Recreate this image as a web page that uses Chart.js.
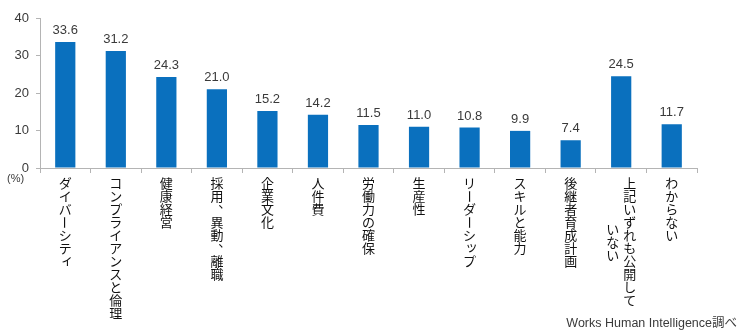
<!DOCTYPE html>
<html>
<head>
<meta charset="utf-8">
<style>
  html, body { margin: 0; padding: 0; background: #fff; }
  #wrap { width: 740px; height: 330px; position: relative; }
</style>
<script src="https://cdn.jsdelivr.net/npm/chart.js@4.4.0/dist/chart.umd.min.js"></script>
</head>
<body>
<div id="wrap"><canvas id="chart"></canvas></div>
<script>
// data
const categories = [
  'ダイバーシティ',
  'コンプライアンスと倫理',
  '健康経営',
  '採用、異動、離職',
  '企業文化',
  '人件費',
  '労働力の確保',
  '生産性',
  'リーダーシップ',
  'スキルと能力',
  '後継者育成計画',
  ['上記いずれも公開して', 'いない'],
  'わからない'
];
const values = [33.6, 31.2, 24.3, 21.0, 15.2, 14.2, 11.5, 11.0, 10.8, 9.9, 7.4, 24.5, 11.7];
const yTicks = [0, 10, 20, 30, 40];
const unitLabel = '(%)';
const sourceNote = 'Works Human Intelligence調べ';

const BLUE = '#0a70be';
const AXIS = '#b4b4b4';
const TEXT = '#3a3a3a';
const STEP = 13;
const JP_FONT = '13px "Noto Sans CJK JP"';
const smallKana = 'ァィゥェォッャュョヮぁぃぅぇぉっゃゅょ';

function drawVertical(ctx, text, x, y) {
  for (let i = 0; i < text.length; i++) {
    const ch = text[i];
    const cy = y + i * STEP + STEP / 2;
    ctx.save();
    if (ch === 'ー') {
      ctx.translate(x, cy);
      ctx.rotate(Math.PI / 2);
      ctx.fillText(ch, 0, 0);
    } else if (ch === '、') {
      ctx.fillText(ch, x + STEP * 0.6, cy - STEP * 0.6);
    } else if (smallKana.includes(ch)) {
      ctx.fillText(ch, x + STEP * 0.15, cy - STEP * 0.2);
    } else {
      ctx.fillText(ch, x, cy);
    }
    ctx.restore();
  }
}

const labelPlugin = {
  id: 'labels',
  afterDraw(chart) {
    const ctx = chart.ctx;
    const xs = chart.scales.x;
    const area = chart.chartArea;

    // values above bars
    ctx.save();
    ctx.font = '13px "Liberation Sans", Arial, sans-serif';
    ctx.fillStyle = TEXT;
    ctx.textAlign = 'center';
    ctx.textBaseline = 'bottom';
    chart.getDatasetMeta(0).data.forEach((bar, i) => {
      ctx.fillText(values[i].toFixed(1), bar.x, bar.y - 5);
    });
    ctx.restore();

    // vertical category names
    ctx.save();
    ctx.font = JP_FONT;
    ctx.fillStyle = '#111';
    ctx.textAlign = 'center';
    ctx.textBaseline = 'middle';
    const top = area.bottom + 9;
    categories.forEach((lab, i) => {
      const cols = Array.isArray(lab) ? lab : [lab];
      const cx = xs.getPixelForValue(i);
      const maxLen = Math.max(...cols.map(c => c.length));
      cols.forEach((col, j) => {
        const x = cx + ((cols.length - 1) / 2 - j) * 17;
        const y = top + (maxLen - col.length) * STEP / 2;
        drawVertical(ctx, col, x, y);
      });
    });
    ctx.restore();

    // unit and source
    ctx.save();
    ctx.fillStyle = TEXT;
    ctx.font = '11px "Liberation Sans", Arial, sans-serif';
    ctx.textAlign = 'left';
    ctx.textBaseline = 'middle';
    ctx.fillText(unitLabel, area.left - 33, area.bottom + 11);
    ctx.font = '12.5px "Liberation Sans", "Noto Sans CJK JP", sans-serif';
    ctx.textAlign = 'right';
    ctx.textBaseline = 'alphabetic';
    ctx.fillText(sourceNote, 737, 327);
    ctx.restore();
  }
};

new Chart(document.getElementById('chart'), {
  type: 'bar',
  data: {
    labels: categories,
    datasets: [{
      data: values,
      backgroundColor: BLUE,
      borderWidth: 0,
      barPercentage: 0.4,
      categoryPercentage: 1
    }]
  },
  options: {
    responsive: true,
    maintainAspectRatio: false,
    animation: false,
    layout: { padding: { top: 18, right: 43, left: 0, bottom: 0 } },
    plugins: { legend: { display: false }, tooltip: { enabled: false } },
    scales: {
      x: {
        grid: { display: true, drawOnChartArea: false, drawTicks: true, tickLength: 5, color: AXIS, offset: true },
        border: { color: AXIS },
        ticks: { display: false },
        afterFit(scale) { scale.height = 162; }
      },
      y: {
        min: 0,
        max: 40,
        afterBuildTicks(scale) { scale.ticks = yTicks.map(v => ({ value: v })); },
        grid: { display: true, drawOnChartArea: false, drawTicks: true, tickLength: 4, color: AXIS },
        border: { color: AXIS },
        ticks: {
          padding: 7,
          color: TEXT,
          font: { family: '"Liberation Sans", Arial, sans-serif', size: 13 }
        },
        afterFit(scale) { scale.width = 40; }
      }
    }
  },
  plugins: [labelPlugin]
});
</script>
</body>
</html>
